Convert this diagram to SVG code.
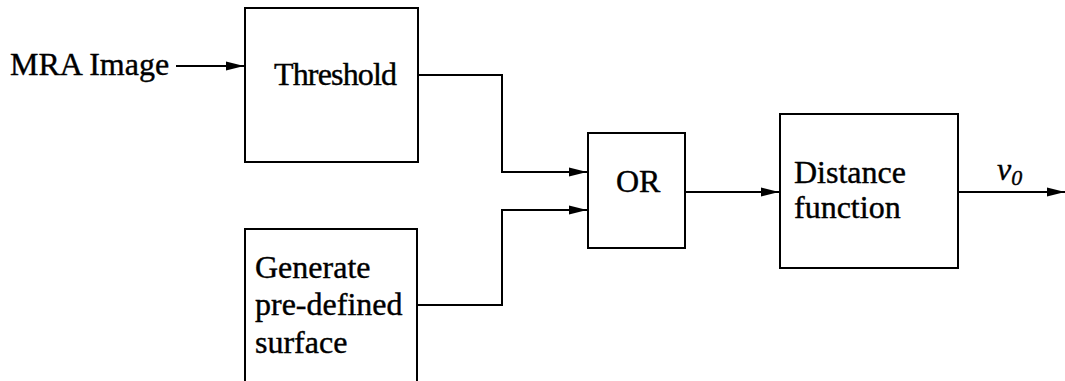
<svg xmlns="http://www.w3.org/2000/svg" width="1065" height="381" viewBox="0 0 1065 381">
<style>
.box{fill:#fff;stroke:#000;stroke-width:2}
.t{font-family:"Liberation Serif","Times New Roman",serif;font-size:32px;fill:#000;stroke:#000;stroke-width:0.4}
.c{fill:none;stroke:#000;stroke-width:2}
</style>
<defs>
<marker id="ah" markerWidth="18" markerHeight="11" refX="18" refY="5.5" orient="auto" markerUnits="userSpaceOnUse">
<path d="M0,1 L18,5.5 L0,10 Z" fill="#000"/>
</marker>
</defs>
<rect width="1065" height="381" fill="#fff"/>
<g id="mra-label"><text class="t" x="10" y="75">MRA Image</text></g>
<g id="threshold"><rect class="box" x="245" y="8" width="173" height="154"/><text class="t" x="274" y="85" textLength="123">Threshold</text></g>
<g id="generate"><rect class="box" x="245" y="229" width="172" height="160"/><text class="t" x="255" y="278">Generate</text><text class="t" x="255" y="315">pre-defined</text><text class="t" x="255" y="353">surface</text></g>
<g id="or"><rect class="box" x="588" y="133" width="97" height="115"/><text class="t" x="616" y="192">OR</text></g>
<g id="distance"><rect class="box" x="780" y="114" width="178" height="154"/><text class="t" x="794" y="183">Distance</text><text class="t" x="794" y="218">function</text></g>
<g id="connectors">
<path class="c" d="M176,66 H244" marker-end="url(#ah)"/>
<path class="c" d="M418,75 H502 V172 H587" marker-end="url(#ah)"/>
<path class="c" d="M417,305 H502 V210 H587" marker-end="url(#ah)"/>
<path class="c" d="M685,192 H779" marker-end="url(#ah)"/>
<path class="c" d="M958,192 H1065" marker-end="url(#ah)"/>
</g>
<g id="v0-label"><text class="t" x="997" y="180" font-style="italic">v<tspan font-size="22" dy="5">0</tspan></text></g>
</svg>
